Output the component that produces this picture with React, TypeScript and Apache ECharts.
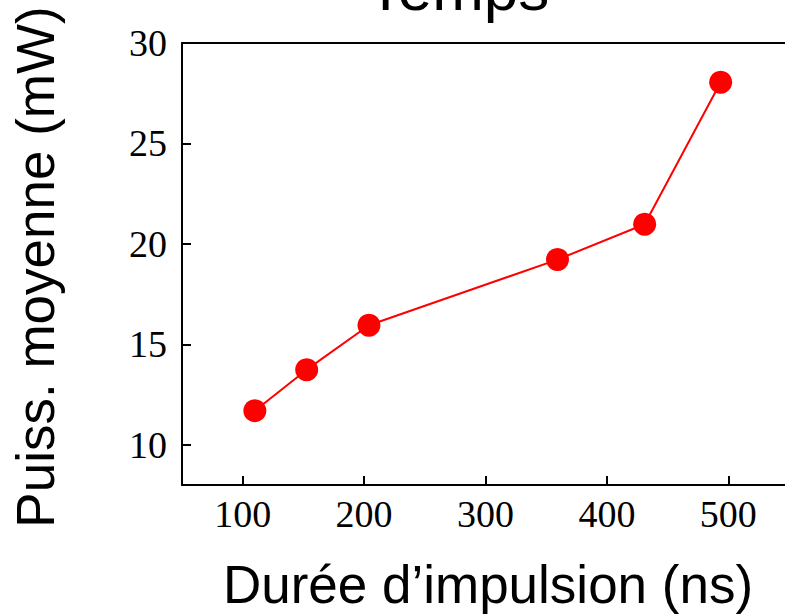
import React, { useEffect, useRef } from "react";
import * as echarts from "echarts";

const pulseDurations = [110, 152.7, 204, 359.3, 431.1, 493.7];
const avgPower = [11.7, 13.74, 15.95, 19.22, 20.98, 28.05];

const xTicks = [100, 200, 300, 400, 500];
const yTicks = [10, 15, 20, 25, 30];

const titleText = "Temps";
const xAxisTitle = "Durée d\u2019impulsion (ns)";
const yAxisTitle = "Puiss. moyenne (mW)";

export default function App() {
  const ref = useRef<HTMLDivElement>(null);
  useEffect(() => {
    if (!ref.current) return;
    const chart = echarts.init(ref.current, undefined, { renderer: "svg" });
    const data = pulseDurations.map((x, i) => [x, avgPower[i]]);
    const axisLine = { show: true, onZero: false, lineStyle: { color: "#000", width: 2 } };
    chart.setOption({
      animation: false,
      backgroundColor: "#ffffff",
      grid: {
        left: 182,
        top: 43,
        width: 607,
        height: 442,
        show: false,
        containLabel: false,
        outerBoundsMode: "none",
      },
      xAxis: [
        {
          type: "value",
          min: 50,
          max: 550,
          splitLine: { show: false },
          axisLine,
          axisTick: {
            show: true,
            inside: true,
            length: 9,
            customValues: xTicks,
            lineStyle: { color: "#000", width: 2 },
          },
          axisLabel: {
            customValues: xTicks,
            color: "#000",
            fontFamily: "Liberation Serif",
            fontSize: 38,
            margin: 10,
          },
        },
        {
          type: "value",
          position: "top",
          min: 50,
          max: 550,
          splitLine: { show: false },
          axisLine,
          axisTick: { show: false },
          axisLabel: { show: false },
        },
      ],
      yAxis: {
        type: "value",
        min: 8,
        max: 30,
        splitLine: { show: false },
        axisLine,
        axisTick: {
          show: true,
          inside: true,
          length: 9,
          customValues: yTicks,
          lineStyle: { color: "#000", width: 2 },
        },
        axisLabel: {
          customValues: yTicks,
          color: "#000",
          fontFamily: "Liberation Serif",
          fontSize: 38,
          margin: 15,
        },
      },
      series: [
        {
          type: "line",
          xAxisIndex: 0,
          data,
          symbol: "circle",
          symbolSize: 23,
          lineStyle: { color: "#ff0000", width: 2 },
          itemStyle: { color: "#ff0000" },
        },
      ],
      graphic: [
        {
          type: "text",
          x: 458,
          y: -12,
          style: {
            text: titleText,
            fontFamily: "Liberation Sans",
            fontSize: 62,
            fill: "#000",
            align: "center",
            verticalAlign: "middle",
          },
        },
        {
          type: "text",
          x: 488,
          y: 584,
          style: {
            text: xAxisTitle,
            fontFamily: "Liberation Sans",
            fontSize: 53,
            fill: "#000",
            align: "center",
            verticalAlign: "middle",
          },
        },
        {
          type: "text",
          x: 35,
          y: 267,
          rotation: Math.PI / 2,
          style: {
            text: yAxisTitle,
            fontFamily: "Liberation Sans",
            fontSize: 53,
            fill: "#000",
            align: "center",
            verticalAlign: "middle",
          },
        },
      ],
    });
    return () => chart.dispose();
  }, []);
  return (
    <div
      ref={ref}
      style={{ position: "fixed", left: 0, top: 0, width: 785, height: 614 }}
    />
  );
}
